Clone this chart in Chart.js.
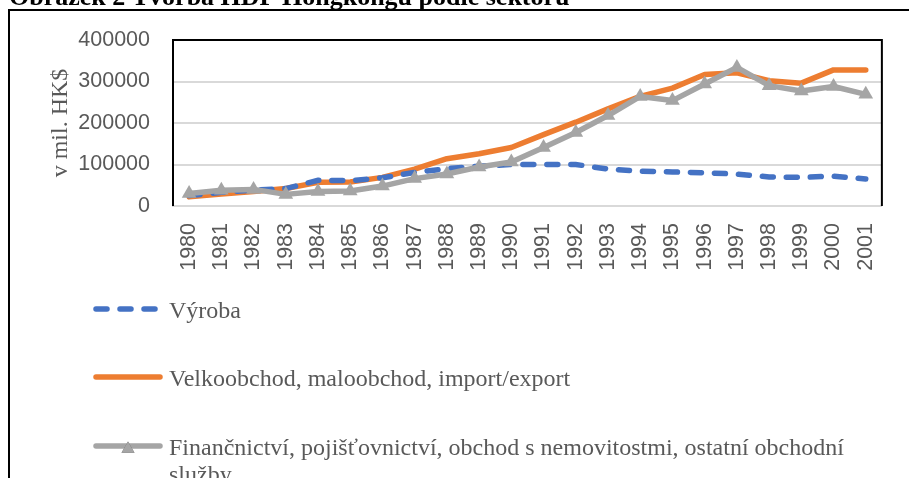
<!DOCTYPE html>
<html>
<head>
<meta charset="utf-8">
<script src="https://cdn.jsdelivr.net/npm/chart.js@4/dist/chart.umd.min.js"></script>
<style>
  html, body { margin: 0; padding: 0; background: #fff; }
  #wrap { width: 909px; height: 478px; position: relative; }
</style>
</head>
<body>
<div id="wrap"><canvas id="hdp-chart"></canvas></div>
<script>
// Data (v mil. HK$)
const years = ["1980", "1981", "1982", "1983", "1984", "1985", "1986", "1987", "1988", "1989", "1990",
  "1991", "1992", "1993", "1994", "1995", "1996", "1997", "1998", "1999", "2000", "2001"];

const vyroba = [25000, 33000, 38000, 42000, 62000, 61000, 68000, 81000, 90000, 96000, 100000,
  100000, 100000, 89000, 84000, 82000, 80000, 77000, 70000, 69000, 72000, 65000];

const velkoobchod = [22000, 29000, 35000, 42000, 57000, 58000, 69000, 89000, 114000, 126000, 141000,
  172000, 202000, 234000, 264000, 284000, 317000, 321000, 302000, 296000, 328000, 328000];

const financnictvi = [30000, 38000, 40000, 28000, 35000, 36000, 48000, 66000, 77000, 94000, 106000,
  141000, 177000, 218000, 264000, 254000, 294000, 334000, 290000, 277000, 288000, 269000];

const yTicks = [0, 100000, 200000, 300000, 400000];

const seriesNames = [
  ["Výroba"],
  ["Velkoobchod, maloobchod, import/export"],
  ["Finančnictví, pojišťovnictví, obchod s nemovitostmi, ostatní obchodní", "služby"],
];

const figureTitle = "Obrázek 2 Tvorba HDP Hongkongu podle sektoru";

const BLUE = "#4472C4";
const ORANGE = "#ED7D31";
const GRAY = "#A5A5A5";
const TEXT = "#595959";
const SERIF = "'Liberation Serif', 'Times New Roman', serif";
const SANS = "'Liberation Sans', Arial, sans-serif";

// white page, outer frame and the cut-off figure title
const framePlugin = {
  id: "frame",
  beforeDraw(chart) {
    const ctx = chart.ctx;
    ctx.save();
    ctx.fillStyle = "#fff";
    ctx.fillRect(0, 0, chart.width, chart.height);

    ctx.strokeStyle = "#000";
    ctx.lineWidth = 2;
    ctx.beginPath();
    ctx.moveTo(9, chart.height);
    ctx.lineTo(9, 10);
    ctx.lineTo(chart.width, 10);
    ctx.stroke();

    ctx.fillStyle = "#000";
    ctx.font = "bold 26px " + SERIF;
    ctx.textBaseline = "alphabetic";
    ctx.textAlign = "left";
    ctx.fillText(figureTitle, 9, 5);
    ctx.restore();
  },
};

// black border on left, top and right of the plot area
const plotBorderPlugin = {
  id: "plotBorder",
  beforeDatasetsDraw(chart) {
    const { ctx, chartArea } = chart;
    ctx.save();
    ctx.strokeStyle = "#000";
    ctx.lineWidth = 2;
    ctx.beginPath();
    ctx.moveTo(chartArea.left, chartArea.bottom);
    ctx.lineTo(chartArea.left, chartArea.top);
    ctx.lineTo(chartArea.right, chartArea.top);
    ctx.lineTo(chartArea.right, chartArea.bottom);
    ctx.stroke();
    ctx.restore();
  },
};

// legend stacked under the axis, one entry per row
const legendPlugin = {
  id: "rowLegend",
  afterDraw(chart) {
    const ctx = chart.ctx;
    const rows = [309, 377, 446];
    const x0 = 93;
    const x1 = 163;
    ctx.save();
    chart.data.datasets.forEach((ds, i) => {
      const y = rows[i];
      ctx.strokeStyle = ds.borderColor;
      ctx.lineWidth = 5.5;
      ctx.lineCap = "round";
      ctx.setLineDash(ds.borderDash || []);
      ctx.beginPath();
      ctx.moveTo(x0 + 3, y);
      ctx.lineTo(x1 - 3, y);
      ctx.stroke();
      ctx.setLineDash([]);

      if (ds.pointStyle === "triangle") {
        Chart.helpers.drawPoint(ctx, {
          pointStyle: "triangle",
          radius: 7.5,
          borderWidth: 0,
        }, (x0 + x1) / 2, y + 3);
        ctx.fillStyle = ds.pointBackgroundColor;
        ctx.fill();
      }

      ctx.fillStyle = TEXT;
      ctx.font = "24px " + SERIF;
      ctx.textAlign = "left";
      ctx.textBaseline = "alphabetic";
      seriesNames[i].forEach((line, j) => {
        ctx.fillText(line, 169, y + 8.5 + j * 27.5);
      });
    });
    ctx.restore();
  },
};

const ctx = document.getElementById("hdp-chart").getContext("2d");

const hdpChart = new Chart(ctx, {
  type: "line",
  data: {
    labels: years,
    datasets: [
      {
        label: seriesNames[0].join(" "),
        data: vyroba,
        borderColor: BLUE,
        backgroundColor: BLUE,
        borderWidth: 5.5,
        borderDash: [11, 13],
        borderCapStyle: "round",
        pointRadius: 0,
        tension: 0,
        order: 1,
      },
      {
        label: seriesNames[1].join(" "),
        data: velkoobchod,
        borderColor: ORANGE,
        backgroundColor: ORANGE,
        borderWidth: 5.5,
        borderCapStyle: "round",
        borderJoinStyle: "round",
        pointRadius: 0,
        tension: 0,
        order: 2,
      },
      {
        label: seriesNames[2].join(" "),
        data: financnictvi,
        borderColor: GRAY,
        backgroundColor: GRAY,
        borderWidth: 5.5,
        borderCapStyle: "round",
        borderJoinStyle: "round",
        pointStyle: "triangle",
        pointRadius: 8.5,
        pointBorderWidth: 0,
        pointBackgroundColor: GRAY,
        tension: 0,
        order: 0,
      },
    ],
  },
  options: {
    responsive: true,
    maintainAspectRatio: false,
    animation: false,
    events: [],
    layout: {
      padding: { top: 40, left: 0, right: 19, bottom: 0 },
    },
    plugins: {
      legend: { display: false },
      tooltip: { enabled: false },
    },
    scales: {
      x: {
        offset: true,
        grid: { display: false, drawTicks: false },
        border: { display: true, color: "#D9D9D9", width: 2 },
        ticks: {
          autoSkip: false,
          minRotation: 90,
          maxRotation: 90,
          padding: 17,
          color: TEXT,
          font: { family: SANS, size: 21.5 },
        },
        afterFit: (scale) => {
          scale.height = 272;
        },
      },
      y: {
        min: 0,
        max: 400000,
        afterBuildTicks: (scale) => {
          scale.ticks = yTicks.map((v) => ({ value: v }));
        },
        grid: { color: "#D9D9D9", lineWidth: 2, drawTicks: false },
        border: { display: false },
        ticks: {
          padding: 23,
          color: TEXT,
          font: { family: SANS, size: 21.5 },
          callback: (value) => String(value),
        },
        title: {
          display: true,
          text: "v mil. HK$",
          color: TEXT,
          font: { family: SERIF, size: 24 },
          padding: { top: 46, bottom: 0 },
        },
        afterFit: (scale) => {
          scale.width = 173;
        },
      },
    },
  },
  plugins: [framePlugin, plotBorderPlugin, legendPlugin],
});
</script>
</body>
</html>
